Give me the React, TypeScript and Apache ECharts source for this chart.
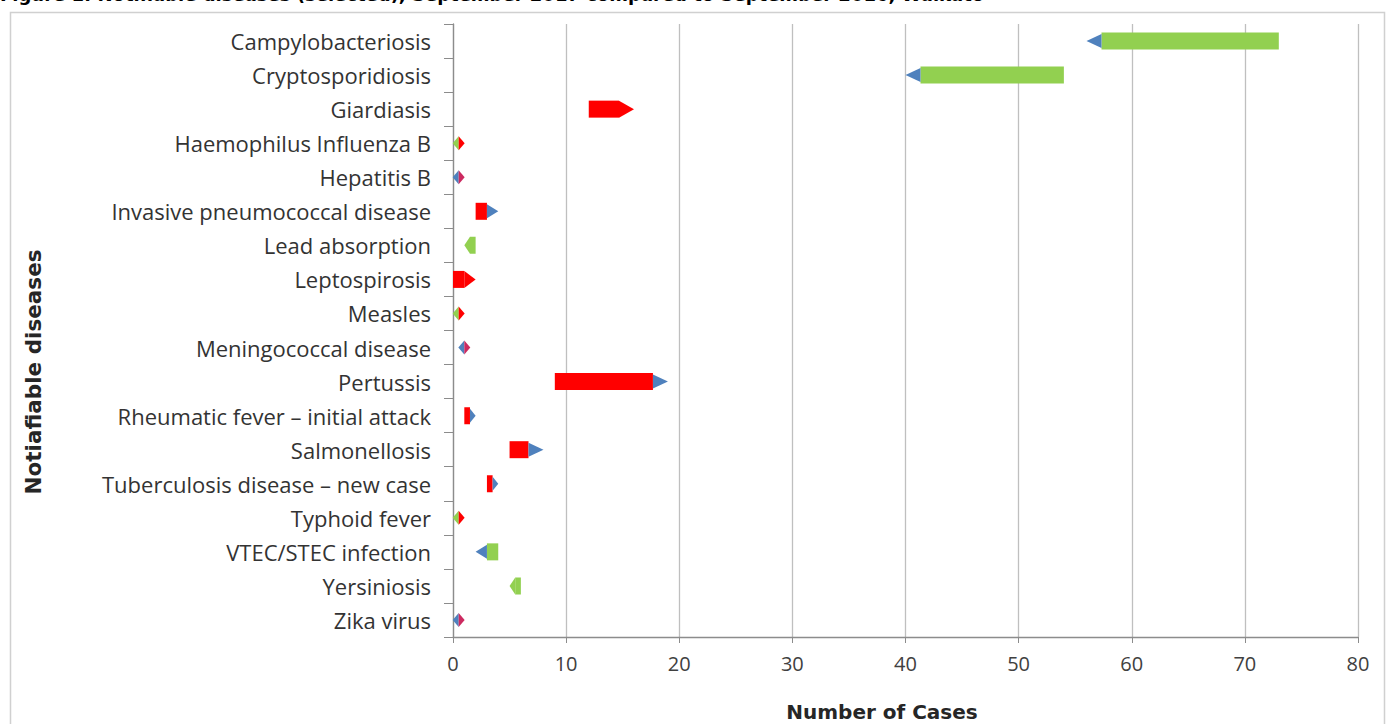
import React, { useEffect, useRef } from "react";
import * as echarts from "echarts";

const categories = [
  "Campylobacteriosis",
  "Cryptosporidiosis",
  "Giardiasis",
  "Haemophilus Influenza B",
  "Hepatitis B",
  "Invasive pneumococcal disease",
  "Lead absorption",
  "Leptospirosis",
  "Measles",
  "Meningococcal disease",
  "Pertussis",
  "Rheumatic fever – initial attack",
  "Salmonellosis",
  "Tuberculosis disease – new case",
  "Typhoid fever",
  "VTEC/STEC infection",
  "Yersiniosis",
  "Zika virus",
];

const sep2016 = [73, 54, 12, 0, 0, 2, 2, 0, 0, 1, 9, 1, 5, 3, 0, 4, 6, 0];
const sep2017 = [56, 40, 16, 1, 1, 4, 1, 2, 1, 1, 19, 2, 8, 4, 1, 2, 5, 1];

// colour of the arrow head and (for tiny no-body marks) of the tail
const headKinds = [
  "blue", "blue", "red", "red", "magenta", "blue", "green", "red", "red",
  "magenta", "blue", "blue", "blue", "blue", "red", "blue", "green", "magenta",
];
const tailKinds: (string | null)[] = [
  null, null, null, "green", "blue", null, null, null, "green",
  "blue", null, null, null, null, "green", null, null, "blue",
];

const xTicks = [0, 80, 10]; // min, max, interval

const COLORS: Record<string, string> = {
  red: "#FF0000",
  green: "#92D050",
  blue: "#4F81BD",
  magenta: "#CC2A60",
};

const FONT = "'Open Sans', Lato, sans-serif";
const BOLD_FONT = "'DejaVu Sans', Verdana, sans-serif";

export default function App() {
  const ref = useRef<HTMLDivElement>(null);

  useEffect(() => {
    if (!ref.current) return;
    const chart = echarts.init(ref.current, undefined, { renderer: "svg" });

    const data = categories.map((_, i) => [i, sep2016[i], sep2017[i]]);

    const option: any = {
      animation: false,
      backgroundColor: "#ffffff",
      grid: { left: 453, right: 34, top: 24, bottom: 87, containLabel: false },
      xAxis: {
        type: "value",
        min: xTicks[0],
        max: xTicks[1],
        interval: xTicks[2],
        axisLine: { show: true, lineStyle: { color: "#8C8C8C", width: 1.3 } },
        axisTick: { show: true, length: 6, lineStyle: { color: "#8C8C8C" } },
        splitLine: { show: true, lineStyle: { color: "#BFBFBF", width: 1.3 } },
        axisLabel: {
          color: "#404040",
          fontSize: 20,
          fontFamily: FONT,
          margin: 16,
        },
      },
      yAxis: {
        type: "category",
        data: categories,
        inverse: true,
        axisLine: { show: true, lineStyle: { color: "#8C8C8C", width: 1.3 } },
        axisTick: { show: true, length: 9, alignWithLabel: false, lineStyle: { color: "#8C8C8C" } },
        splitLine: { show: false },
        axisLabel: {
          color: "#333333",
          fontSize: 22,
          fontFamily: FONT,
          margin: 22,
        },
      },
      graphic: [
        {
          type: "rect",
          shape: { x: 10.5, y: 12.5, width: 1374, height: 740 },
          style: { fill: "none", stroke: "#D0D0D0", lineWidth: 1.5 },
          silent: true,
          z: -10,
        },
        {
          type: "text",
          x: 0,
          y: 3,
          style: {
            text: "Figure 1: Notifiable diseases (selected), September 2017 compared to September 2016, Waikato",
            font: `bold 18px ${BOLD_FONT}`,
            fill: "#000000",
            verticalAlign: "bottom",
          },
        },
        {
          type: "text",
          x: 882,
          y: 712,
          style: {
            text: "Number of Cases",
            font: `bold 20px ${BOLD_FONT}`,
            fill: "#262626",
            align: "center",
            verticalAlign: "middle",
          },
        },
        {
          type: "text",
          x: 33,
          y: 372,
          rotation: Math.PI / 2,
          style: {
            text: "Notiafiable diseases",
            font: `bold 21.5px ${BOLD_FONT}`,
            fill: "#262626",
            align: "center",
            verticalAlign: "middle",
          },
        },
      ],
      series: [
        {
          type: "custom",
          encode: { x: [1, 2], y: 0 },
          data,
          renderItem: (params: any, api: any) => {
            const i = params.dataIndex;
            const idx = api.value(0);
            const a = api.value(1);
            const b = api.value(2);
            const y = api.coord([a, idx])[1];
            const x1 = api.coord([a, idx])[0];
            const x2 = api.coord([b, idx])[0];
            const head = COLORS[headKinds[i]];
            const tailKind = tailKinds[i];
            const children: any[] = [];
            if (tailKind) {
              const xc = (x1 + x2) / 2;
              const w = 6;
              const h = 7;
              children.push({
                type: "polygon",
                shape: { points: [[xc, y - h], [xc - w, y], [xc, y + h]] },
                style: { fill: COLORS[tailKind] },
              });
              children.push({
                type: "polygon",
                shape: { points: [[xc, y - h], [xc + w, y], [xc, y + h]] },
                style: { fill: head },
              });
            } else {
              const dir = x2 >= x1 ? 1 : -1;
              const body = COLORS[dir > 0 ? "red" : "green"];
              const total = Math.abs(x2 - x1);
              const hl = Math.min(15, total / 2);
              const xb = x2 - dir * hl;
              const H = 17;
              const hh = head === body ? H : 14;
              children.push({
                type: "rect",
                shape: { x: Math.min(x1, xb), y: y - H / 2, width: Math.abs(xb - x1), height: H },
                style: { fill: body },
              });
              children.push({
                type: "polygon",
                shape: { points: [[xb, y - hh / 2], [x2, y], [xb, y + hh / 2]] },
                style: { fill: head },
              });
            }
            return { type: "group", children };
          },
        },
      ],
    };

    chart.setOption(option);
    return () => chart.dispose();
  }, []);

  return (
    <div
      ref={ref}
      style={{ position: "fixed", left: 0, top: 0, width: 1392, height: 724 }}
    />
  );
}
